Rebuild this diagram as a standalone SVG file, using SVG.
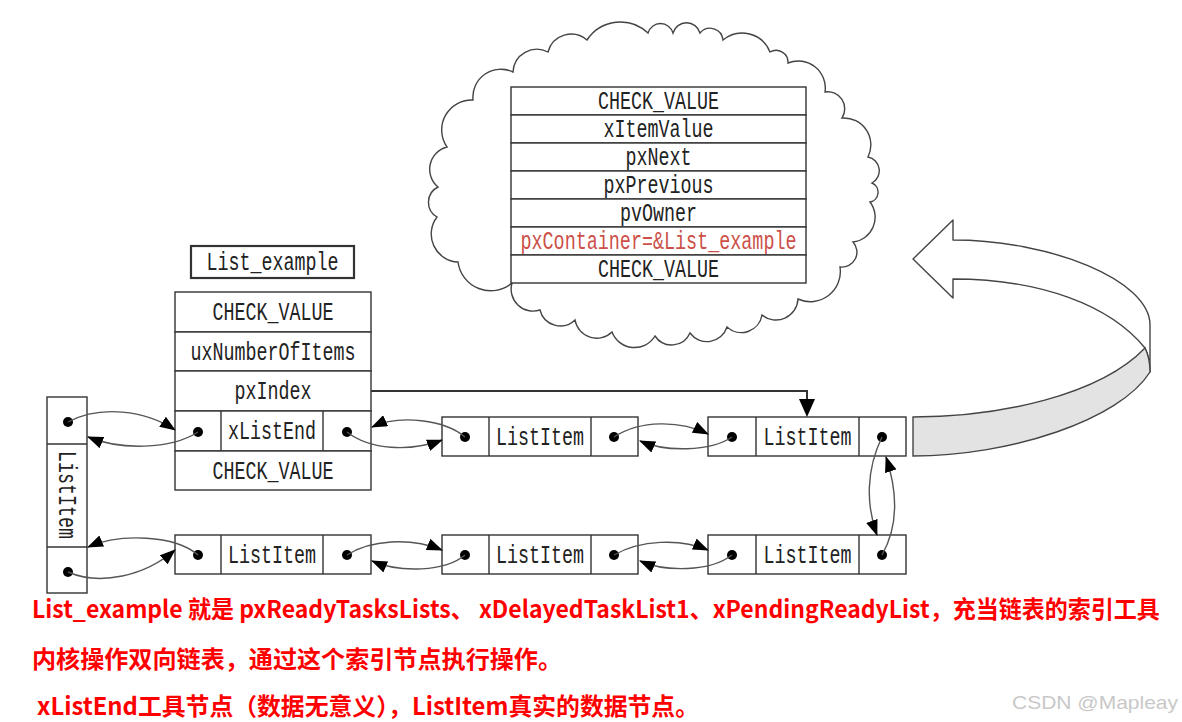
<svg xmlns="http://www.w3.org/2000/svg" width="1182" height="722" viewBox="0 0 1182 722">
<defs>
<style>
.box{fill:#fff;stroke:#333;stroke-width:1.4}
.t{font-family:"Liberation Mono",monospace;font-size:25px;fill:#222;text-anchor:middle}
.red{fill:#cc4f48}
.dot{fill:#000}
.con{fill:none;stroke:#555;stroke-width:1.4}
.note{font-family:"Noto Sans CJK SC","Noto Sans",sans-serif;font-size:24px;font-weight:bold;fill:#ff0000}
</style>
<marker id="ah" viewBox="0 0 16 12" refX="15" refY="6" markerWidth="16" markerHeight="12" markerUnits="userSpaceOnUse" orient="auto">
<path d="M0,0 L16,6 L0,12 Z" fill="#000"/>
</marker>
</defs>
<rect width="1182" height="722" fill="#fff"/>

<g id="cloud">
<path d="M513,72 A24,24 0 0 1 548,52 A24,24 0 0 1 587,40 A40,40 0 0 1 648,33 A13,13 0 0 1 673,33 A14,14 0 0 1 700,33 A13,13 0 0 1 723,40 A30,30 0 0 1 770,52 A12,12 0 0 1 788,63 A27,27 0 0 1 825,92 A17,17 0 0 1 842,118 A27,27 0 0 1 868,157 A14,14 0 0 1 872,183 A10,10 0 0 1 870,202 A25,25 0 0 1 853,242 A15,15 0 0 1 840,267 A30,30 0 0 1 798,299 A22,22 0 0 1 762,315 A21,21 0 0 1 727,327 A21,21 0 0 1 690,333 A20,20 0 0 1 655,336 A24,24 0 0 1 612,332 A22,22 0 0 1 575,320 A21,21 0 0 1 540,310 A22,22 0 0 1 512,283 A33,33 0 0 1 458,262 A28,28 0 0 1 437,217 A17,17 0 0 1 438,187 A23,23 0 0 1 447,147 A30,30 0 0 1 473,100 A28,28 0 0 1 513,72 Z" fill="#fff" stroke="#444" stroke-width="1.4"/>
</g>

<g id="listitem-detail">
<rect class="box" x="511" y="87" width="295" height="28"/>
<rect class="box" x="511" y="115" width="295" height="28"/>
<rect class="box" x="511" y="143" width="295" height="28"/>
<rect class="box" x="511" y="171" width="295" height="28"/>
<rect class="box" x="511" y="199" width="295" height="28"/>
<rect class="box" x="511" y="227" width="295" height="28"/>
<rect class="box" x="511" y="255" width="295" height="28"/>
<text class="t" x="658.5" y="109" textLength="121" lengthAdjust="spacingAndGlyphs">CHECK_VALUE</text>
<text class="t" x="658.5" y="137" textLength="110" lengthAdjust="spacingAndGlyphs">xItemValue</text>
<text class="t" x="658.5" y="165" textLength="66" lengthAdjust="spacingAndGlyphs">pxNext</text>
<text class="t" x="658.5" y="193" textLength="110" lengthAdjust="spacingAndGlyphs">pxPrevious</text>
<text class="t" x="658.5" y="221" textLength="77" lengthAdjust="spacingAndGlyphs">pvOwner</text>
<text class="t red" x="658.5" y="249" textLength="276" lengthAdjust="spacingAndGlyphs">pxContainer=&amp;List_example</text>
<text class="t" x="658.5" y="277" textLength="121" lengthAdjust="spacingAndGlyphs">CHECK_VALUE</text>
</g>

<g id="big-arrow">
<path d="M953,240 L953,220 L913,259 L953,298 L953,279 C1040,279 1110,305 1145,348 C1149,356 1150,362 1150,372 L1150,325 C1150,280 1050,240 953,240 Z" fill="#fff" stroke="#444" stroke-width="1.4" stroke-linejoin="round"/>
<path d="M913,417 C1000,417 1100,395 1145,348 C1149,356 1150,362 1150,372 C1120,420 1010,456 913,456 Z" fill="#e3e3e3" stroke="#444" stroke-width="1.4"/>
</g>

<g id="list-example-label">
<rect x="191" y="246" width="163" height="32" fill="#fff" stroke="#333" stroke-width="2.2"/>
<text class="t" x="272.5" y="270" textLength="132" lengthAdjust="spacingAndGlyphs">List_example</text>
</g>

<g id="list-example">
<rect class="box" x="175" y="292" width="196" height="40"/>
<rect class="box" x="175" y="332" width="196" height="39"/>
<rect class="box" x="175" y="371" width="196" height="40"/>
<rect class="box" x="175" y="411" width="196" height="40"/>
<rect class="box" x="175" y="451" width="196" height="39"/>
<line x1="221" y1="411" x2="221" y2="451" stroke="#333" stroke-width="1.4"/>
<line x1="323" y1="411" x2="323" y2="451" stroke="#333" stroke-width="1.4"/>
<text class="t" x="273" y="320" textLength="121" lengthAdjust="spacingAndGlyphs">CHECK_VALUE</text>
<text class="t" x="273" y="360" textLength="165" lengthAdjust="spacingAndGlyphs">uxNumberOfItems</text>
<text class="t" x="273" y="399" textLength="77" lengthAdjust="spacingAndGlyphs">pxIndex</text>
<text class="t" x="272" y="439" textLength="88" lengthAdjust="spacingAndGlyphs">xListEnd</text>
<text class="t" x="273" y="479" textLength="121" lengthAdjust="spacingAndGlyphs">CHECK_VALUE</text>
<circle class="dot" cx="198" cy="432" r="5"/>
<circle class="dot" cx="347" cy="432" r="5"/>
</g>

<g id="item-left">
<rect class="box" x="47" y="397" width="40" height="196"/>
<line x1="47" y1="444" x2="87" y2="444" stroke="#333" stroke-width="1.4"/>
<line x1="47" y1="547" x2="87" y2="547" stroke="#333" stroke-width="1.4"/>
<text class="t" x="0" y="0" transform="translate(59,495) rotate(90)" textLength="88" lengthAdjust="spacingAndGlyphs">ListItem</text>
<circle class="dot" cx="68" cy="422" r="5"/>
<circle class="dot" cx="68" cy="572" r="5"/>
</g>

<g id="item-top-1">
<rect class="box" x="442" y="417" width="196" height="39"/>
<line x1="489" y1="417" x2="489" y2="456" stroke="#333" stroke-width="1.4"/>
<line x1="591" y1="417" x2="591" y2="456" stroke="#333" stroke-width="1.4"/>
<text class="t" x="540" y="445" textLength="88" lengthAdjust="spacingAndGlyphs">ListItem</text>
<circle class="dot" cx="465" cy="437" r="5"/>
<circle class="dot" cx="614" cy="437" r="5"/>
</g>

<g id="item-top-2">
<rect class="box" x="708" y="417" width="198" height="39"/>
<line x1="756" y1="417" x2="756" y2="456" stroke="#333" stroke-width="1.4"/>
<line x1="859" y1="417" x2="859" y2="456" stroke="#333" stroke-width="1.4"/>
<text class="t" x="807.5" y="445" textLength="88" lengthAdjust="spacingAndGlyphs">ListItem</text>
<circle class="dot" cx="732" cy="437" r="5"/>
<circle class="dot" cx="882" cy="437" r="5"/>
</g>

<g id="item-bottom-1">
<rect class="box" x="175" y="535" width="196" height="39"/>
<line x1="221" y1="535" x2="221" y2="574" stroke="#333" stroke-width="1.4"/>
<line x1="323" y1="535" x2="323" y2="574" stroke="#333" stroke-width="1.4"/>
<text class="t" x="272" y="563" textLength="88" lengthAdjust="spacingAndGlyphs">ListItem</text>
<circle class="dot" cx="198" cy="555" r="5"/>
<circle class="dot" cx="347" cy="555" r="5"/>
</g>

<g id="item-bottom-2">
<rect class="box" x="442" y="535" width="196" height="39"/>
<line x1="489" y1="535" x2="489" y2="574" stroke="#333" stroke-width="1.4"/>
<line x1="591" y1="535" x2="591" y2="574" stroke="#333" stroke-width="1.4"/>
<text class="t" x="540" y="563" textLength="88" lengthAdjust="spacingAndGlyphs">ListItem</text>
<circle class="dot" cx="465" cy="555" r="5"/>
<circle class="dot" cx="614" cy="555" r="5"/>
</g>

<g id="item-bottom-3">
<rect class="box" x="708" y="535" width="198" height="39"/>
<line x1="756" y1="535" x2="756" y2="574" stroke="#333" stroke-width="1.4"/>
<line x1="859" y1="535" x2="859" y2="574" stroke="#333" stroke-width="1.4"/>
<text class="t" x="807.5" y="563" textLength="88" lengthAdjust="spacingAndGlyphs">ListItem</text>
<circle class="dot" cx="732" cy="555" r="5"/>
<circle class="dot" cx="882" cy="555" r="5"/>
</g>

<g id="connectors">
<path class="con" d="M68,422 C100,405 145,410 175,430" marker-end="url(#ah)"/>
<path class="con" d="M198,432 C170,450 120,450 88,437" marker-end="url(#ah)"/>
<path class="con" d="M68,572 C100,586 145,576 175,550" marker-end="url(#ah)"/>
<path class="con" d="M198,555 C175,535 120,533 88,547" marker-end="url(#ah)"/>
<path class="con" d="M347,432 C370,450 410,452 442,440" marker-end="url(#ah)"/>
<path class="con" d="M465,437 C445,420 400,414 372,427" marker-end="url(#ah)"/>
<path class="con" d="M614,437 C640,420 680,420 708,434" marker-end="url(#ah)"/>
<path class="con" d="M732,437 C710,452 665,452 640,441" marker-end="url(#ah)"/>
<path class="con" d="M882,437 C866,470 866,505 877,535" marker-end="url(#ah)"/>
<path class="con" d="M882,555 C899,525 897,490 886,457" marker-end="url(#ah)"/>
<path class="con" d="M347,555 C370,540 410,537 442,550" marker-end="url(#ah)"/>
<path class="con" d="M465,555 C445,572 400,573 372,561" marker-end="url(#ah)"/>
<path class="con" d="M614,555 C640,540 680,538 708,550" marker-end="url(#ah)"/>
<path class="con" d="M732,555 C710,572 665,572 640,561" marker-end="url(#ah)"/>
<path d="M371,391 H807 V402" fill="none" stroke="#333" stroke-width="2"/>
<polygon points="799,399 815,399 807,417" fill="#000"/>
</g>

<g id="notes">
<text class="note" x="0" y="0" transform="translate(32,618) scale(0.9,1)" textLength="1253" lengthAdjust="spacingAndGlyphs">List_example 就是 pxReadyTasksLists、 xDelayedTaskList1、xPendingReadyList，充当链表的索引工具</text>
<text class="note" x="32" y="668" textLength="530" lengthAdjust="spacingAndGlyphs">内核操作双向链表，通过这个索引节点执行操作。</text>
<text class="note" x="37" y="715" textLength="662" lengthAdjust="spacingAndGlyphs">xListEnd工具节点（数据无意义），ListItem真实的数据节点。</text>
</g>
<text x="1012" y="709" font-family="Liberation Sans, Arial, sans-serif" font-size="19" fill="#c8c8c8" textLength="166" lengthAdjust="spacingAndGlyphs">CSDN @Mapleay</text>
</svg>
